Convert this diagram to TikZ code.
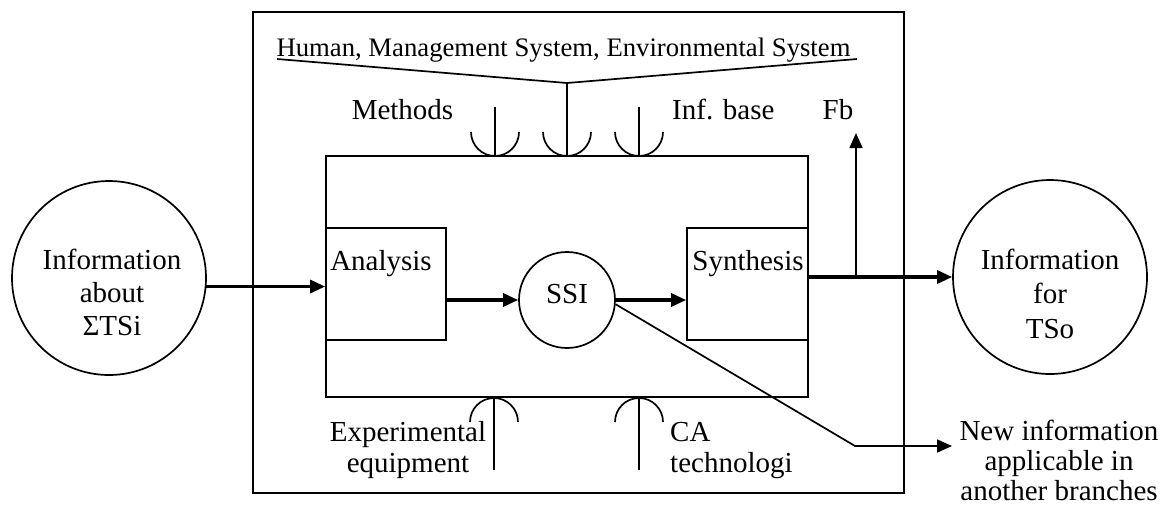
\documentclass[tikz,border=0pt]{standalone}
\usepackage{fontspec}
\setmainfont{Liberation Serif}
\usetikzlibrary{arrows.meta,calc}
\tikzset{
  thinline/.style={line width=1.7pt},
  boxnode/.style={draw, line width=1.7pt, inner sep=0pt},
  circnode/.style={draw, circle, line width=1.7pt, inner sep=0pt},
  txt/.style={inner sep=0pt, font=\fontsize{29}{33}\selectfont},
  thickarrow/.style={line width=3.2pt, -{Triangle[length=15pt,width=13pt]}},
  thinarrow/.style={line width=1.7pt, -{Triangle[length=15pt,width=13pt]}},
}
\begin{document}
\begin{tikzpicture}[x=1pt,y=-1pt]
\useasboundingbox (0,0) rectangle (1166,512);
% boxes
\node[boxnode, line width=2.2pt, minimum width=651pt, minimum height=481pt] (outer) at (578.5,252.5) {};
\node[boxnode, minimum width=482pt, minimum height=241pt] (main) at (567,276.5) {};
\node[boxnode, minimum width=120pt, minimum height=112pt] (analysis) at (386,284) {};
\node[boxnode, minimum width=121pt, minimum height=112pt] (synthesis) at (747.5,284) {};
\node[circnode, minimum size=96pt] (ssi) at (567,300) {};
\node[circnode, minimum size=194pt] (inL) at (109,278) {};
\node[circnode, minimum size=194pt] (inR) at (1050,277) {};
% texts
\node[inner sep=0pt, font=\fontsize{26.7}{33}\selectfont, anchor=base] (human) at (563.5,56) {Human, Management System, Environmental System};
\node[txt, anchor=base] (methods) at (402.5,119) {Methods};
\node[txt, anchor=base west] (infbase) at (672,119) {Inf. base};
\node[txt, anchor=base] (fb) at (838,119) {Fb};
\node[txt, anchor=base] (analysistxt) at (381,270) {Analysis};
\node[txt, anchor=base] (synthesistxt) at (748,270) {Synthesis};
\node[txt, anchor=base] (ssitxt) at (567,303) {SSI};
\node[txt, anchor=base, align=center, font=\fontsize{29}{33}\selectfont] (inLtxt) at (112,335) {Information\\about\\ΣTSi};
\node[txt, anchor=base, align=center, font=\fontsize{29}{34.5}\selectfont] (inRtxt) at (1050,338) {Information\\for\\TSo};
\node[txt, anchor=base, align=center, font=\fontsize{29}{31}\selectfont] (exptxt) at (408,472) {Experimental\\equipment};
\node[txt, anchor=base west, align=left, font=\fontsize{29}{31}\selectfont] (catxt) at (670,472) {CA\\technologi};
\node[txt, anchor=base, align=center, font=\fontsize{29}{30}\selectfont] (newtxt) at (1059,500) {New information\\applicable in\\another branches};
% coordinates
\coordinate (hl) at (277,59);
\coordinate (hm) at (567,83);
\coordinate (hr) at (857,59);
\coordinate (fbbase) at (856,277);
\coordinate (fbtip) at (856,133);
\coordinate (bend) at (855,446);
\coordinate (newtip) at (952,446);
\coordinate (cupA) at (495,107);
\coordinate (cupC) at (639,107);
\coordinate (capA) at (494,470);
\coordinate (capB) at (639,470);
% top inputs
\draw[thinline] (hl) -- (hm) -- (hr);
\draw[thinline] (hm) -- (hm |- main.north);
\draw[thinline] (cupA) -- (cupA |- main.north);
\draw[thinline] (cupC) -- (cupC |- main.north);
\foreach \cx in {495,567,639}{
  \draw[thinline] (\cx-24,132) arc[start angle=180, end angle=0, radius=24];
}
% bottom inputs
\draw[thinline] (capA) -- (capA |- main.south);
\draw[thinline] (capB) -- (capB |- main.south);
\foreach \cx in {494,639}{
  \draw[thinline] (\cx-24,422) arc[start angle=180, end angle=360, radius=24];
}
% flows
\draw[thickarrow] (inL.-5) -- (inL.-5 -| analysis.west);
\draw[thickarrow] (ssi.west -| analysis.east) -- (ssi.west);
\draw[thickarrow] (ssi.east) -- (ssi.east -| synthesis.west);
\draw[thickarrow] (inR.west -| synthesis.east) -- (inR.west);
\draw[thinarrow] (fbbase) -- (fbtip);
\draw[thinarrow] (ssi.-5) -- (bend) -- (newtip);
\end{tikzpicture}
\end{document}
